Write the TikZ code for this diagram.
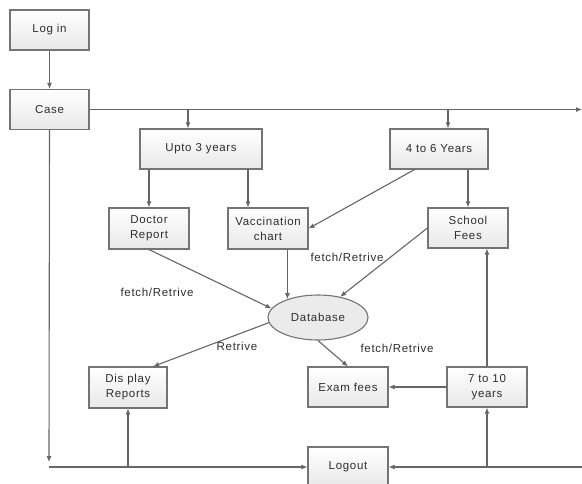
\documentclass[tikz,border=0pt]{standalone}
\usepackage{fontspec}
\setmainfont{Liberation Sans}[LetterSpace=6]
\usetikzlibrary{arrows.meta,shapes.geometric,calc}
\definecolor{ln}{HTML}{666666}
\definecolor{bd}{HTML}{747474}
\definecolor{tx}{HTML}{2E2E2E}
\begin{document}
\begin{tikzpicture}[x=1pt,y=-1pt,
  box/.style={rectangle, draw=bd, line width=1.1pt, top color=white, bottom color=black!9,
    text=tx, font=\fontsize{11.5}{15}\selectfont, align=center, inner sep=0pt,
    minimum width=80pt, minimum height=40pt},
  dbshape/.style={ellipse, draw=bd, line width=1.1pt, fill=black!8, text=tx,
    font=\fontsize{11.5}{15}\selectfont, inner sep=0pt, minimum width=100pt, minimum height=45pt},
  lbl/.style={text=tx, font=\fontsize{11.5}{15}\selectfont, inner sep=0pt},
  conn/.style={draw=ln, line width=1.1pt},
  arr/.style={conn, -{Latex[length=6pt,width=5pt]}}]
\useasboundingbox (0,0) rectangle (582,483);
\fill[white] (0,0) rectangle (582,483);
\clip (0,0) rectangle (582,483);

% nodes
\node[box, minimum width=79pt] (login) at (49.5,30) {Log in};
\node[box, minimum width=79pt] (case) at (49.5,109.5) {Case};
\node[box, minimum width=122pt] (upto3) at (201,149) {Upto 3 years};
\node[box, minimum width=98pt] (y4to6) at (439,149) {4 to 6 Years};
\node[box, minimum height=41pt] (doctor) at (149,228.5) {Doctor\\Report};
\node[box, minimum height=41pt] (vacc) at (268,228.5) {Vaccination\\chart};
\node[box] (school) at (468,228) {School\\Fees};
\node[dbshape] (db) at (318,317.5) {Database};
\node[box, minimum width=78pt, minimum height=41pt] (display) at (128,387.5) {Dis play\\Reports};
\node[box] (exam) at (348,387) {Exam fees};
\node[box] (y7to10) at (487,387) {7 to 10\\years};
\node[box] (logout) at (348,467) {Logout};

% labels
\node[lbl] (l1) at (157,292) {fetch/Retrive};
\node[lbl] (l2) at (347,257) {fetch/Retrive};
\node[lbl] (l3) at (237,346) {Retrive};
\node[lbl] (l4) at (397,348) {fetch/Retrive};

% junction coordinates
\coordinate (tr) at (582,109.5);
\coordinate (j1) at (188,109.5);
\coordinate (j2) at (448,109.5);
\coordinate (bl) at (49,467);
\coordinate (bl2) at (49,462);
\coordinate (br) at (582,467);
\coordinate (jd) at (128,467);
\coordinate (j7) at (487,467);
\coordinate (uv) at (248,169);

% connectors
\draw[arr] (login) -- (case);
\draw[arr] (case.east) -- (tr);
\draw[arr] (j1) -- (j1 |- upto3.north);
\draw[arr] (j2) -- (j2 |- y4to6.north);
\draw[arr] (upto3.south -| doctor.north) -- (doctor.north);
\draw[arr] (uv) -- (uv |- vacc.north);
\draw[arr] (y4to6.south -| school.north) -- (school.north);
\draw[arr] (y4to6.220) -- (vacc.east);
\draw[arr] (doctor.south) -- (db.169);
\draw[arr] (vacc.south -| db.149) -- (db.149);
\draw[arr] (school.west) -- (db.43);
\draw[arr] (db.186) -- (display.40);
\draw[arr] (db.south) -- (exam.north);
\draw[arr] (y7to10.west) -- (exam.east);
\draw[arr] (y7to10.north) -- (y7to10.north |- school.south);
\draw[arr] (case.south) -- (bl2);
\draw[arr] (bl) -- (logout.west);
\draw[arr] (jd) -- (display.south);
\draw[arr] (br) -- (logout.east);
\draw[arr] (j7) -- (y7to10.south);
\end{tikzpicture}
\end{document}
